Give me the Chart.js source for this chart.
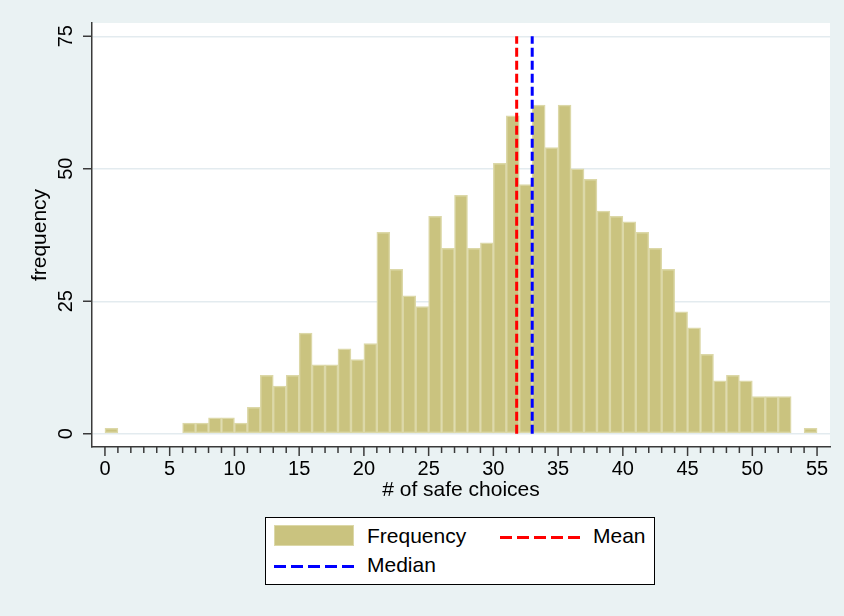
<!DOCTYPE html>
<html>
<head>
<meta charset="utf-8">
<script src="https://cdn.jsdelivr.net/npm/chart.js@4"></script>
<style>
  body { margin: 0; background: #eaf2f3; }
  #wrap { position: relative; width: 844px; height: 616px; }
  #legend {
    position: absolute; left: 265px; top: 517px; width: 388px; height: 66px;
    background: #fff; border: 1px solid #000;
    font-family: "Liberation Sans", Arial, sans-serif; font-size: 21px; color: #000;
  }
  #legend .swatch {
    position: absolute; width: 78px; height: 19px;
    background: #cac37f; border: 1px solid #dcd8a8;
  }
  #legend .dash { position: absolute; width: 80px; height: 3px; }
  #legend .label { position: absolute; line-height: 24px; }
</style>
</head>
<body>
<div id="wrap">
  <canvas id="chart" width="844" height="616"></canvas>
  <div id="legend">
    <div class="swatch" style="left:8px; top:7px;"></div>
    <div class="label" style="left:101px; top:6px;">Frequency</div>
    <div class="dash" style="left:234px; top:18px; background: repeating-linear-gradient(to right, #ff0000 0 12px, transparent 12px 17px);"></div>
    <div class="label" style="left:327px; top:6px;">Mean</div>
    <div class="dash" style="left:8px; top:47px; background: repeating-linear-gradient(to right, #0000ff 0 12px, transparent 12px 17px);"></div>
    <div class="label" style="left:101px; top:35px;">Median</div>
  </div>
</div>
<script>
// Histogram data: number of safe choices (bin start) and frequency
const safeChoices = [0, 1, 2, 3, 4, 5, 6, 7, 8, 9, 10, 11, 12, 13, 14, 15, 16, 17, 18, 19,
  20, 21, 22, 23, 24, 25, 26, 27, 28, 29, 30, 31, 32, 33, 34, 35, 36, 37, 38, 39,
  40, 41, 42, 43, 44, 45, 46, 47, 48, 49, 50, 51, 52, 53, 54];
const frequency = [1, 0, 0, 0, 0, 0, 2, 2, 3, 3, 2, 5, 11, 9, 11, 19, 13, 13, 16, 14,
  17, 38, 31, 26, 24, 41, 35, 45, 35, 36, 51, 60, 47, 62, 54, 62, 50, 48, 42, 41,
  40, 38, 35, 31, 23, 20, 15, 10, 11, 10, 7, 7, 7, 0, 1];
const meanValue = 31.8;
const medianValue = 33;
const xTicks = [0, 5, 10, 15, 20, 25, 30, 35, 40, 45, 50, 55];
const yTicks = [0, 25, 50, 75];

const FONT = '"Liberation Sans", Arial, sans-serif';

// Stata-like axes: white plot region, outside ticks, rotated y labels
const stataAxes = {
  id: 'stataAxes',
  beforeDraw(chart) {
    const { ctx, chartArea: a } = chart;
    ctx.save();
    ctx.fillStyle = '#ffffff';
    ctx.fillRect(a.left, a.top, a.right - a.left, a.bottom - a.top);
    ctx.restore();
  },
  afterDraw(chart) {
    const { ctx, chartArea: a, scales: { x, y } } = chart;
    ctx.save();
    ctx.strokeStyle = '#3a3a3a';
    ctx.lineWidth = 1.5;
    ctx.fillStyle = '#000';

    // x minor + major ticks
    for (let v = 0; v <= 55; v++) {
      const px = x.getPixelForValue(v);
      const len = xTicks.includes(v) ? 9 : 6;
      ctx.beginPath();
      ctx.moveTo(px, a.bottom);
      ctx.lineTo(px, a.bottom + len);
      ctx.stroke();
    }
    ctx.font = '20px ' + FONT;
    ctx.textAlign = 'center';
    ctx.textBaseline = 'alphabetic';
    xTicks.forEach(v => ctx.fillText(String(v), x.getPixelForValue(v), 475));

    // y ticks and rotated labels
    yTicks.forEach(v => {
      const py = y.getPixelForValue(v);
      ctx.beginPath();
      ctx.moveTo(a.left, py);
      ctx.lineTo(a.left - 9, py);
      ctx.stroke();
      ctx.save();
      ctx.translate(72, py);
      ctx.rotate(-Math.PI / 2);
      ctx.fillText(String(v), 0, 0);
      ctx.restore();
    });

    // axis titles
    ctx.font = '21px ' + FONT;
    ctx.fillText('# of safe choices', (a.left + a.right) / 2, 496);
    ctx.save();
    ctx.translate(46, (a.top + a.bottom) / 2);
    ctx.rotate(-Math.PI / 2);
    ctx.fillText('frequency', 0, 0);
    ctx.restore();
    ctx.restore();
  }
};

document.addEventListener('DOMContentLoaded', function() {
  const ctx = document.getElementById('chart').getContext('2d');

  const bars = safeChoices.map((s, i) => ({ x: s + 0.5, y: frequency[i] }));

  new Chart(ctx, {
    type: 'bar',
    data: {
      datasets: [
        {
          label: 'Frequency',
          data: bars,
          backgroundColor: '#cac37f',
          borderColor: '#dcd8a8',
          borderWidth: 1.5,
          borderSkipped: false,
          barPercentage: 1,
          categoryPercentage: 1,
          order: 2
        },
        {
          type: 'line',
          label: 'Mean',
          data: [{ x: meanValue, y: 0 }, { x: meanValue, y: 75 }],
          borderColor: '#ff0000',
          borderWidth: 3,
          borderDash: [9, 4],
          pointRadius: 0,
          fill: false,
          order: 1
        },
        {
          type: 'line',
          label: 'Median',
          data: [{ x: medianValue, y: 0 }, { x: medianValue, y: 75 }],
          borderColor: '#0000ff',
          borderWidth: 3,
          borderDash: [9, 4],
          pointRadius: 0,
          fill: false,
          order: 0
        }
      ]
    },
    options: {
      responsive: false,
      animation: false,
      layout: { padding: { left: 0, top: 23, right: 14, bottom: 0 } },
      plugins: {
        legend: { display: false },
        tooltip: { enabled: false }
      },
      scales: {
        x: {
          type: 'linear',
          min: -1,
          max: 56,
          offset: false,
          grid: { display: false, offset: false },
          border: { display: true, color: '#3a3a3a', width: 1.5 },
          ticks: { display: false },
          afterFit: scale => { scale.height = 169; }
        },
        y: {
          min: -2.5,
          max: 77.5,
          afterBuildTicks: scale => { scale.ticks = yTicks.map(v => ({ value: v })); },
          grid: { color: '#e3ebef', lineWidth: 1.5, drawTicks: false },
          border: { display: true, color: '#3a3a3a', width: 1.5 },
          ticks: { display: false },
          afterFit: scale => { scale.width = 92; }
        }
      }
    },
    plugins: [stataAxes]
  });
});
</script>
</body>
</html>
